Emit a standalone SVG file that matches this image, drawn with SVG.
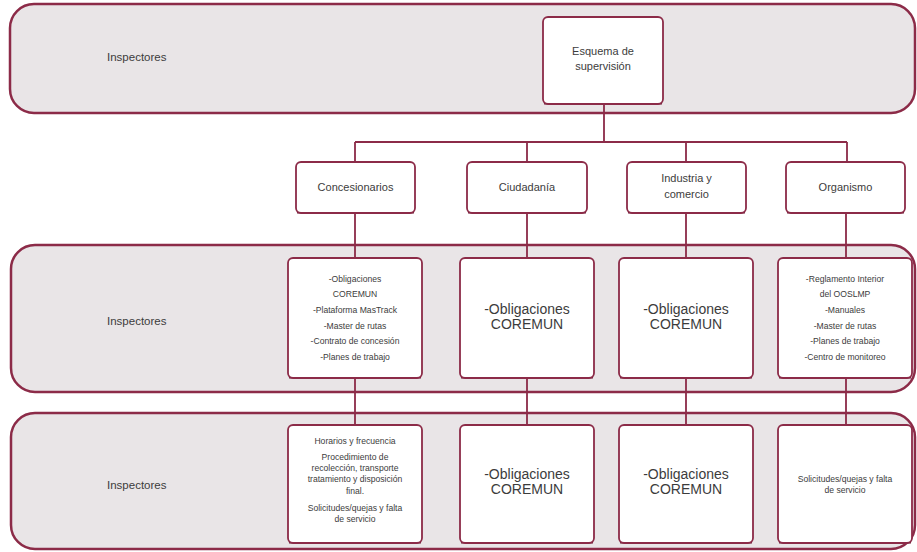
<svg xmlns="http://www.w3.org/2000/svg" width="917" height="552" viewBox="0 0 917 552">
<style>
.band{fill:#e9e5e7;stroke:#8c2b48;stroke-width:2.5}
.box{fill:#ffffff;stroke:#8c2b48;stroke-width:1.8}
.sh{fill:none;stroke:#6e1f38;stroke-width:2.2}
.con{fill:none;stroke:#8c2b48;stroke-width:1.8}
text{font-family:"Liberation Sans",Arial,sans-serif;fill:#3c3c3c;text-anchor:middle}
.lbl{font-size:11.5px;text-anchor:start}
.t{font-size:11px}
.s{font-size:8.6px}
.b{font-size:14px}
</style>
<rect width="917" height="552" fill="#ffffff"/>
<g id="band1"><rect class="band" x="10" y="4" width="905" height="109" rx="24"/><text class="lbl" x="107" y="61">Inspectores</text></g>
<g id="band2"><rect class="band" x="11" y="245" width="904" height="147" rx="24"/><text class="lbl" x="107" y="325">Inspectores</text></g>
<g id="band3"><rect class="band" x="11" y="413" width="904" height="136" rx="24"/><text class="lbl" x="107" y="489">Inspectores</text></g>
<g id="connectors">
<path class="con" d="M604 104V142M355 142H847M355 142V162M527 142V162M686 142V162M847 142V162"/>
<path class="con" d="M355 213V258M527 213V258M686 213V258M846 213V258"/>
<path class="con" d="M355 378V425M527 378V425M686 378V425M846 378V425"/>
</g>
<g id="esquema"><path class="sh" d="M544 103.5H662"/><rect class="box" x="543" y="17" width="120" height="87" rx="5"/><text class="t" x="603" y="55">Esquema de</text><text class="t" x="603" y="70">supervisión</text></g>
<g id="concesionarios"><path class="sh" d="M297 212.5H414"/><rect class="box" x="296" y="162" width="119" height="51" rx="5"/><text class="t" x="355.5" y="191">Concesionarios</text></g>
<g id="ciudadania"><path class="sh" d="M468 212.5H586"/><rect class="box" x="467" y="162" width="120" height="51" rx="5"/><text class="t" x="527" y="191">Ciudadanía</text></g>
<g id="industria"><path class="sh" d="M628 212.5H745"/><rect class="box" x="627" y="162" width="119" height="51" rx="5"/><text class="t" x="686.5" y="182">Industria y</text><text class="t" x="686.5" y="198">comercio</text></g>
<g id="organismo"><path class="sh" d="M787 212.5H904"/><rect class="box" x="786" y="162" width="119" height="51" rx="5"/><text class="t" x="845.5" y="191">Organismo</text></g>
<g id="d-concesionarios"><path class="sh" d="M289 377.5H421"/><rect class="box" x="288" y="258" width="134" height="120" rx="5"/>
<text class="s" x="355" y="282">-Obligaciones</text><text class="s" x="355" y="297">COREMUN</text><text class="s" x="355" y="313">-Plataforma MasTrack</text><text class="s" x="355" y="329">-Master de rutas</text><text class="s" x="355" y="344">-Contrato de concesión</text><text class="s" x="355" y="360">-Planes de trabajo</text></g>
<g id="d-ciudadania"><path class="sh" d="M461 377.5H593"/><rect class="box" x="460" y="258" width="134" height="120" rx="5"/><text class="b" x="527" y="314">-Obligaciones</text><text class="b" x="527" y="329">COREMUN</text></g>
<g id="d-industria"><path class="sh" d="M620 377.5H752"/><rect class="box" x="619" y="258" width="134" height="120" rx="5"/><text class="b" x="686" y="314">-Obligaciones</text><text class="b" x="686" y="329">COREMUN</text></g>
<g id="d-organismo"><path class="sh" d="M779 377.5H911"/><rect class="box" x="778" y="258" width="134" height="120" rx="5"/>
<text class="s" x="845" y="282">-Reglamento Interior</text><text class="s" x="845" y="297">del OOSLMP</text><text class="s" x="845" y="313">-Manuales</text><text class="s" x="845" y="329">-Master de rutas</text><text class="s" x="845" y="344">-Planes de trabajo</text><text class="s" x="845" y="360">-Centro de monitoreo</text></g>
<g id="r-concesionarios"><path class="sh" d="M289 542.5H421"/><rect class="box" x="288" y="425" width="134" height="118" rx="5"/>
<text class="s" x="355" y="444">Horarios y frecuencia</text><text class="s" x="355" y="460">Procedimiento de</text><text class="s" x="355" y="471">recolección, transporte</text><text class="s" x="355" y="482">tratamiento y disposición</text><text class="s" x="355" y="494">final.</text><text class="s" x="355" y="511">Solicitudes/quejas y falta</text><text class="s" x="355" y="522">de servicio</text></g>
<g id="r-ciudadania"><path class="sh" d="M461 542.5H593"/><rect class="box" x="460" y="425" width="134" height="118" rx="5"/><text class="b" x="527" y="479">-Obligaciones</text><text class="b" x="527" y="494">COREMUN</text></g>
<g id="r-industria"><path class="sh" d="M620 542.5H752"/><rect class="box" x="619" y="425" width="134" height="118" rx="5"/><text class="b" x="686" y="479">-Obligaciones</text><text class="b" x="686" y="494">COREMUN</text></g>
<g id="r-organismo"><path class="sh" d="M779 542.5H911"/><rect class="box" x="778" y="425" width="134" height="118" rx="5"/><text class="s" x="845" y="482">Solicitudes/quejas y falta</text><text class="s" x="845" y="493">de servicio</text></g>
</svg>
